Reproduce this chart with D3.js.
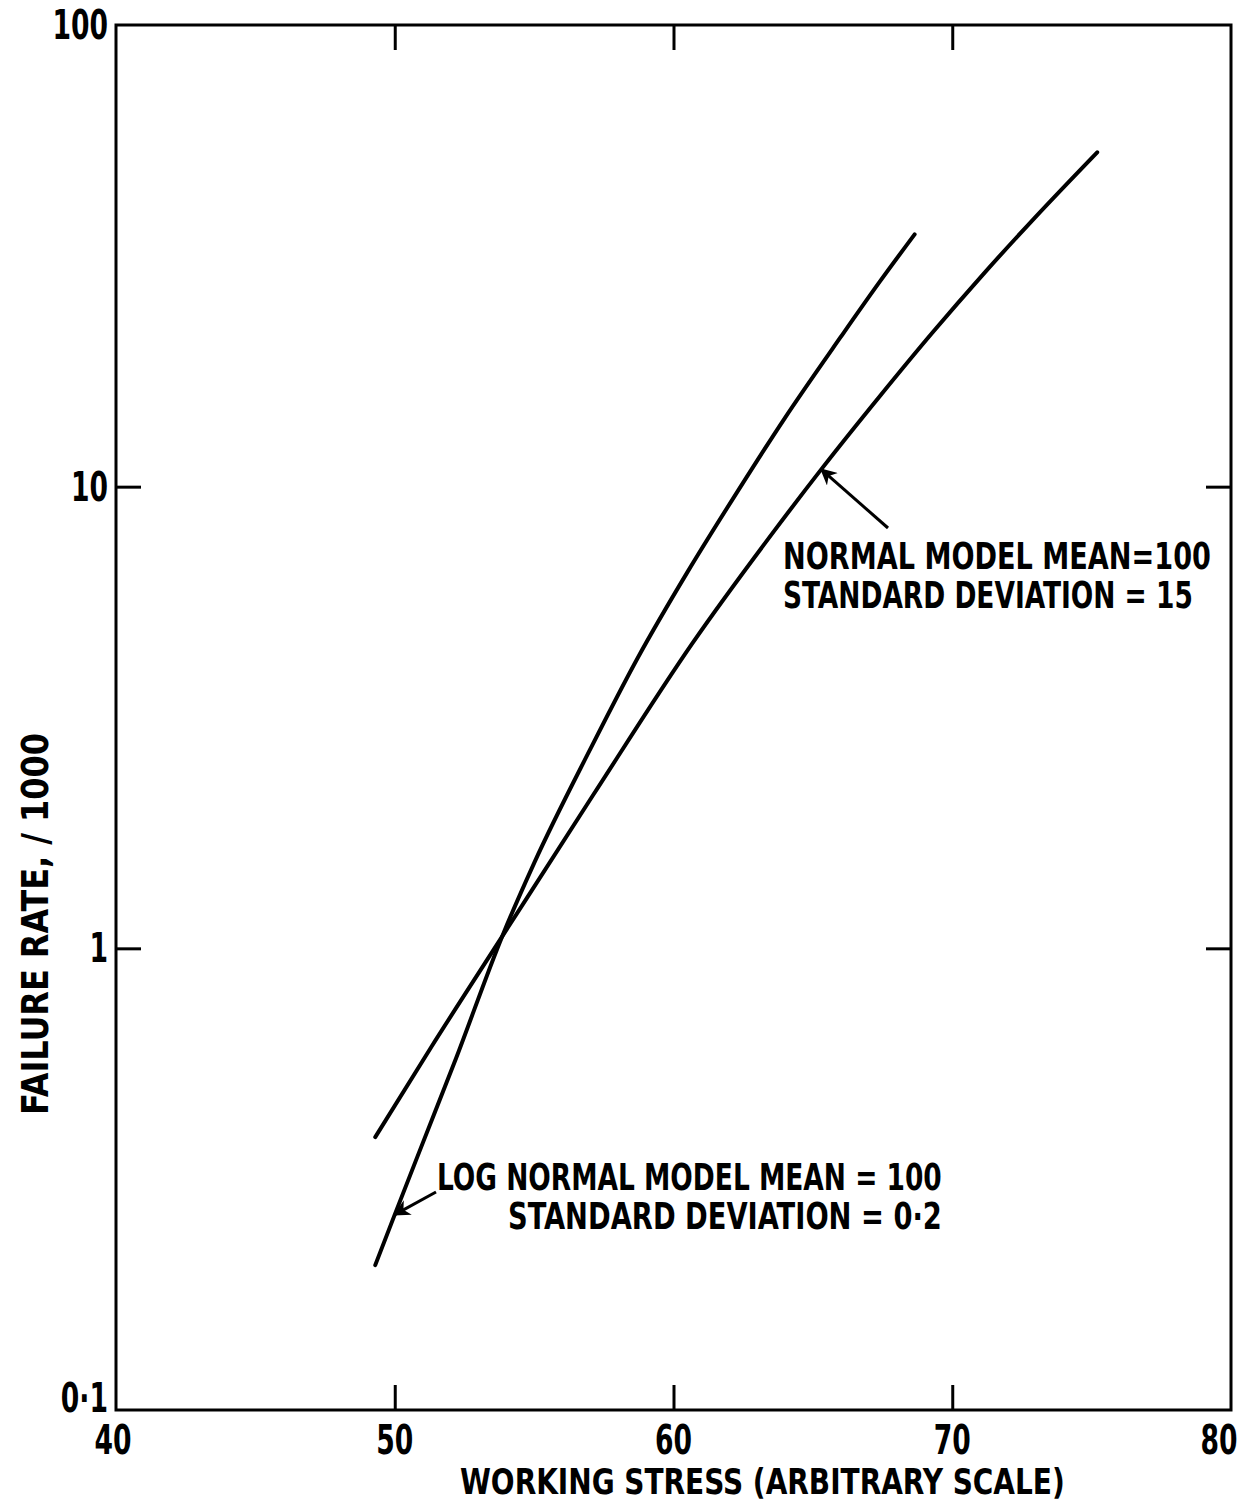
<!DOCTYPE html>
<html>
<head>
<meta charset="utf-8">
<script src="https://cdn.jsdelivr.net/npm/d3@7"></script>
<style>
  html, body { margin: 0; padding: 0; background: #fff; }
  svg { display: block; }
  text { font-family: "DejaVu Sans Condensed", "Liberation Sans Narrow", "Liberation Sans", sans-serif; font-weight: bold; fill: #000; }
</style>
</head>
<body>
<svg id="chart" width="1244" height="1502"></svg>
<script>
// Working stress (arbitrary scale) and failure rate per 1000, normal strength model
const normalStress = [49.3, 51.3, 53.85, 57.1, 60.7, 63.6, 65.3, 67.4, 69.3, 71.1, 72.9, 75.2];
const normalRate   = [0.39, 0.61, 1.06, 2.14, 4.6, 8.0, 10.9, 15.7, 21.6, 28.8, 37.9, 53.0];

// Log-normal strength model
const logStress = [49.3, 50.0, 51.0, 52.2, 53.85, 55.0, 57.0, 58.7, 60.5, 62.3, 64.0, 66.0, 67.4, 68.65];
const logRate   = [0.206, 0.265, 0.378, 0.578, 1.06, 1.53, 2.69, 4.24, 6.53, 9.77, 14.1, 21.1, 27.8, 35.2];

// Axis ticks and labels
const xTicks = [40, 50, 60, 70, 80];
const xTickLabels = ["40", "50", "60", "70", "80"];
const yTicks = [0.1, 1, 10, 100];
const yTickLabels = ["0·1", "1", "10", "100"];

const xTitle = "WORKING STRESS  (ARBITRARY SCALE)";
const yTitle = "FAILURE  RATE,  / 1000";
const normalNote = ["NORMAL  MODEL  MEAN=100", "STANDARD  DEVIATION  = 15"];
const logNote = ["LOG  NORMAL  MODEL  MEAN = 100", "STANDARD  DEVIATION = 0·2"];

const svg = d3.select("#chart");
const L = 116, R = 1231, T = 25, B = 1410;

const x = d3.scaleLinear().domain([40, 80]).range([L, R]);
const y = d3.scaleLog().domain([0.1, 100]).range([B, T]);

const tickLen = 25;

// Inward ticks on all four sides
const innerX = xTicks.slice(1, -1);
const innerY = yTicks.slice(1, -1);

function styleAxis(g) {
  g.select(".domain").remove();
  g.selectAll(".tick line").attr("stroke", "#000").attr("stroke-width", 3);
}

svg.append("g").attr("transform", `translate(0,${B})`)
  .call(d3.axisBottom(x).tickValues(innerX).tickSize(-tickLen).tickFormat(""))
  .call(styleAxis);
svg.append("g").attr("transform", `translate(0,${T})`)
  .call(d3.axisTop(x).tickValues(innerX).tickSize(-tickLen).tickFormat(""))
  .call(styleAxis);
svg.append("g").attr("transform", `translate(${L},0)`)
  .call(d3.axisLeft(y).tickValues(innerY).tickSize(-tickLen).tickFormat(""))
  .call(styleAxis);
svg.append("g").attr("transform", `translate(${R},0)`)
  .call(d3.axisRight(y).tickValues(innerY).tickSize(-tickLen).tickFormat(""))
  .call(styleAxis);

// Frame
svg.append("rect")
  .attr("x", L).attr("y", T).attr("width", R - L).attr("height", B - T)
  .attr("fill", "none").attr("stroke", "#000").attr("stroke-width", 3);

// Text squeezed horizontally to a given width, anchored at its left baseline
function fitText(parent, str, px, py, size, width, rotate) {
  const t = parent.append("text").attr("font-size", size).text(str);
  const natural = t.node().getComputedTextLength();
  const sx = width / natural;
  const rot = rotate ? ` rotate(${rotate})` : "";
  t.attr("transform", `translate(${px},${py})${rot} scale(${sx},1)`);
  return t;
}

// Condensed numerals for the tick labels
const numScale = 0.74;

const xLab = svg.append("g").attr("font-size", 40);
xLab.selectAll("text").data(xTicks).join("text")
  .attr("transform", (d, i) => {
    const px = x(d) + (i === xTicks.length - 1 ? -12 : (i === 0 ? -3 : 0));
    return `translate(${px},1454) scale(${numScale},1)`;
  })
  .attr("text-anchor", "middle")
  .text((d, i) => xTickLabels[i]);

const yLab = svg.append("g").attr("font-size", 40);
yLab.selectAll("text").data(yTicks).join("text")
  .attr("transform", d => `translate(108,${y(d) + 14 + (d === 0.1 ? -12 : 0)}) scale(${numScale},1)`)
  .attr("text-anchor", "end")
  .text((d, i) => yTickLabels[i]);

// Axis titles
fitText(svg, xTitle, 460, 1494, 36, 605);
fitText(svg, yTitle, 48, 1115, 38, 382, -90);

// Curves
const line = d3.line()
  .x(d => x(d[0]))
  .y(d => y(d[1]))
  .curve(d3.curveMonotoneX);

svg.append("path")
  .datum(normalStress.map((s, i) => [s, normalRate[i]]))
  .attr("d", line)
  .attr("fill", "none").attr("stroke", "#000").attr("stroke-width", 4)
  .attr("stroke-linecap", "round");

svg.append("path")
  .datum(logStress.map((s, i) => [s, logRate[i]]))
  .attr("d", line)
  .attr("fill", "none").attr("stroke", "#000").attr("stroke-width", 4)
  .attr("stroke-linecap", "round");

// Annotation arrows
const defs = svg.append("defs");
defs.append("marker")
  .attr("id", "head")
  .attr("viewBox", "0 0 10 10")
  .attr("refX", 9).attr("refY", 5)
  .attr("markerWidth", 7).attr("markerHeight", 5.5)
  .attr("markerUnits", "strokeWidth")
  .attr("orient", "auto")
  .append("path").attr("d", "M0,0 L10,5 L0,10 L3,5 Z").attr("fill", "#000");

function arrow(fromPx, toStress, toRate) {
  svg.append("line")
    .attr("x1", fromPx[0]).attr("y1", fromPx[1])
    .attr("x2", x(toStress)).attr("y2", y(toRate))
    .attr("stroke", "#000").attr("stroke-width", 3)
    .attr("marker-end", "url(#head)");
}
arrow([888, 528], 65.3, 10.9);
arrow([436, 1192], 50.0, 0.265);

// Annotation labels
fitText(svg, normalNote[0], 783, 569, 37, 428);
fitText(svg, normalNote[1], 783, 608, 37, 410);
fitText(svg, logNote[0], 437, 1190, 37, 505);
fitText(svg, logNote[1], 508, 1229, 37, 434);
</script>
</body>
</html>
